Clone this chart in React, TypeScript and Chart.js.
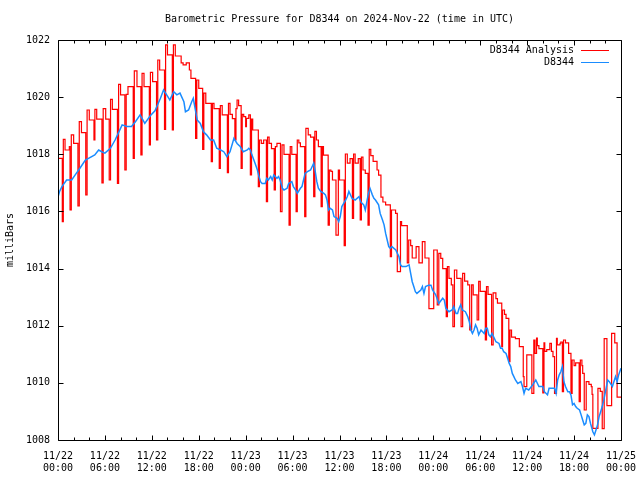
import React, { useEffect, useRef } from 'react';
import { Chart, registerables } from 'chart.js';

Chart.register(...registerables);

const chartTitle = 'Barometric Pressure for D8344 on 2024-Nov-22 (time in UTC)';
const yAxisTitle = 'milliBars';
const analysisLabel = 'D8344 Analysis';
const stationLabel = 'D8344';

// hours since 2024-11-22 00:00 UTC
const xTickHours = [0, 6, 12, 18, 24, 30, 36, 42, 48, 54, 60, 66, 72];
const xTickDates = ['11/22', '11/22', '11/22', '11/22', '11/23', '11/23', '11/23', '11/23', '11/24', '11/24', '11/24', '11/24', '11/25'];
const xTickTimes = ['00:00', '06:00', '12:00', '18:00', '00:00', '06:00', '12:00', '18:00', '00:00', '06:00', '12:00', '18:00', '00:00'];
const xMinorHours = [2, 4, 8, 10, 14, 16, 20, 22, 26, 28, 32, 34, 38, 40, 44, 46, 50, 52, 56, 58, 62, 64, 68, 70];
const yTicks = [1008, 1010, 1012, 1014, 1016, 1018, 1020, 1022];

const analysisHours = [
  0.0, 0.55, 0.68, 0.9, 1.45, 1.54, 1.7, 2.0, 2.55, 2.72, 3.0, 3.55, 3.72, 4.0, 4.6, 4.72, 4.95, 5.62, 5.78, 6.1,
  6.55, 6.72, 6.95, 7.6, 7.75, 8.0, 8.55, 8.72, 8.95, 9.62, 9.76, 10.1, 10.6, 10.75, 11.0, 11.68, 11.82, 12.1, 12.6, 12.76,
  13.0, 13.62, 13.76, 14.0, 14.62, 14.76, 15.0, 15.75, 16.0, 16.4, 16.8, 17.0, 17.6, 17.75, 18.0, 18.5, 18.65, 18.9, 19.6, 19.75,
  19.95, 20.62, 20.76, 21.0, 21.66, 21.8, 22.0, 22.3, 22.62, 22.76, 22.9, 23.1, 23.42, 23.56, 23.75, 24.0, 24.1, 24.4, 24.6, 24.75,
  24.9, 25.62, 25.76, 26.0, 26.3, 26.65, 26.8, 27.0, 27.3, 27.65, 27.8, 28.0, 28.45, 28.65, 28.9, 29.55, 29.7, 29.9, 30.45, 30.6,
  30.8, 31.0, 31.55, 31.7, 32.0, 32.3, 32.7, 32.85, 33.05, 33.3, 33.65, 33.8, 33.95, 34.55, 34.7, 34.9, 35.1, 35.55, 35.85, 36.0,
  36.6, 36.75, 37.0, 37.35, 37.65, 37.8, 38.0, 38.4, 38.65, 38.8, 39.0, 39.3, 39.65, 39.8, 40.0, 40.3, 40.8, 41.0, 41.3, 41.55,
  41.9, 42.5, 42.65, 43.17, 43.39, 43.8, 43.94, 44.67, 44.85, 45.1, 45.3, 45.8, 46.16, 46.59, 46.93, 47.44, 48.05, 48.5, 48.7, 48.95,
  49.2, 49.65, 49.8, 50.0, 50.3, 50.5, 50.7, 51.0, 51.55, 51.75, 52.0, 52.4, 52.65, 52.9, 53.1, 53.6, 53.8, 54.0, 54.65, 54.8,
  55.0, 55.45, 55.65, 56.0, 56.2, 56.75, 56.85, 57.1, 57.3, 57.65, 57.8, 58.0, 58.5, 59.0, 59.5, 59.6, 59.95, 60.6, 60.85, 61.0,
  61.2, 61.3, 61.5, 62.0, 62.15, 62.25, 62.5, 62.9, 63.1, 63.3, 63.5, 63.75, 63.85, 64.2, 64.3, 64.5, 64.65, 64.9, 65.3, 65.6,
  65.75, 66.0, 66.2, 66.65, 66.8, 67.0, 67.1, 67.3, 67.55, 67.9, 68.2, 68.3, 68.4, 69.05, 69.35, 69.6, 69.85, 70.2, 70.8, 71.2,
  71.5, 72.0,
];
const analysisMb = [
  1017.86, 1015.64, 1018.52, 1018.15, 1018.27, 1016.05, 1018.68, 1018.38, 1016.19, 1019.14, 1018.76, 1016.58, 1019.55, 1019.2, 1018.5, 1019.57, 1019.23, 1017.0, 1019.6, 1019.23,
  1017.1, 1019.92, 1019.57, 1016.98, 1020.45, 1020.08, 1017.45, 1020.1, 1020.37, 1017.86, 1020.92, 1020.37, 1017.98, 1020.83, 1020.37, 1018.33, 1020.87, 1020.54, 1018.5, 1021.3,
  1020.95, 1018.87, 1021.83, 1021.48, 1018.85, 1021.83, 1021.44, 1021.2, 1021.13, 1021.2, 1020.95, 1020.66, 1018.56, 1020.6, 1020.31, 1018.17, 1020.14, 1019.78, 1017.74, 1019.78,
  1019.6, 1017.51, 1019.7, 1019.38, 1017.36, 1019.78, 1019.4, 1019.25, 1018.5, 1019.6, 1019.9, 1019.7, 1017.51, 1019.4, 1019.32, 1018.97, 1019.26, 1019.38, 1017.28, 1019.23,
  1018.85, 1016.87, 1018.5, 1018.38, 1018.5, 1016.34, 1018.6, 1018.38, 1018.2, 1016.75, 1018.27, 1018.38, 1015.99, 1018.33, 1018.0, 1015.52, 1018.27, 1018.0, 1015.99, 1018.5,
  1018.4, 1018.27, 1015.82, 1018.91, 1018.68, 1018.6, 1016.52, 1018.8, 1018.5, 1018.27, 1016.17, 1018.27, 1017.97, 1015.52, 1017.45, 1017.4, 1017.1, 1015.17, 1017.45, 1017.1,
  1014.8, 1018.01, 1017.69, 1017.85, 1015.76, 1018.01, 1017.69, 1017.85, 1015.7, 1017.9, 1017.45, 1017.33, 1015.52, 1018.17, 1017.95, 1017.75, 1017.45, 1017.27, 1016.5, 1016.33,
  1016.23, 1014.42, 1016.05, 1015.93, 1013.89, 1015.64, 1015.5, 1014.2, 1015.0, 1014.8, 1014.37, 1014.77, 1014.2, 1014.94, 1014.37, 1012.6, 1014.65, 1012.73, 1014.53, 1014.36,
  1014.0, 1012.32, 1014.07, 1013.66, 1013.43, 1011.97, 1013.95, 1013.66, 1011.97, 1013.83, 1013.56, 1013.43, 1011.85, 1013.43, 1013.08, 1012.2, 1013.55, 1013.2, 1011.5, 1013.37,
  1013.1, 1011.33, 1013.15, 1012.95, 1012.79, 1011.27, 1012.55, 1012.4, 1012.26, 1010.74, 1011.85, 1011.6, 1011.55, 1011.27, 1010.22, 1009.87, 1010.98, 1009.63, 1011.5, 1011.03,
  1011.57, 1011.3, 1011.2, 1009.65, 1011.4, 1011.1, 1011.16, 1011.38, 1011.1, 1010.92, 1009.63, 1011.56, 1011.33, 1011.38, 1011.43, 1009.69, 1011.5, 1011.4, 1011.03, 1009.63,
  1010.8, 1010.6, 1010.7, 1009.34, 1010.8, 1010.6, 1010.33, 1009.05, 1010.04, 1009.95, 1009.87, 1009.6, 1008.41, 1009.81, 1009.7, 1008.4, 1011.55, 1009.2, 1011.73, 1011.4,
  1009.5, 1009.5,
];

const stationHours = [
  0.0, 0.2, 0.5, 1.1, 1.75, 2.2, 2.8, 3.5, 3.9, 4.7, 5.2, 5.6, 6.0, 6.7, 7.3, 7.7, 8.2, 8.8, 9.4, 9.9,
  10.5, 11.1, 11.8, 12.4, 13.1, 13.5, 13.9, 14.3, 14.8, 15.2, 15.6, 16.1, 16.3, 16.7, 17.1, 17.3, 17.8, 18.2, 18.6, 19.0,
  19.5, 19.9, 20.3, 20.8, 21.2, 21.6, 22.0, 22.5, 22.9, 23.3, 23.7, 24.2, 24.4, 24.6, 24.8, 25.2, 25.5, 25.7, 25.9, 26.1,
  26.5, 26.7, 26.9, 27.2, 27.4, 27.6, 28.0, 28.2, 28.4, 28.7, 28.9, 29.3, 29.5, 29.9, 30.1, 30.4, 30.6, 31.0, 31.2, 31.4,
  31.6, 31.9, 32.3, 32.7, 32.9, 33.1, 33.3, 33.6, 34.0, 34.2, 34.4, 34.6, 34.8, 35.1, 35.3, 35.7, 35.9, 36.1, 36.3, 36.8,
  37.0, 37.2, 37.6, 38.0, 38.5, 38.7, 39.1, 39.3, 39.5, 39.7, 39.9, 40.2, 40.4, 40.6, 41.0, 41.2, 41.5, 41.7, 41.9, 42.1,
  42.3, 42.5, 42.7, 43.2, 43.4, 43.6, 43.8, 44.0, 44.5, 44.9, 45.1, 45.3, 45.5, 45.7, 45.9, 46.4, 46.6, 46.8, 47.0, 47.4,
  47.7, 47.9, 48.3, 48.7, 49.2, 49.4, 49.6, 50.0, 50.4, 50.6, 50.9, 51.1, 51.3, 51.5, 51.7, 52.1, 52.4, 52.6, 52.8, 53.0,
  53.2, 53.4, 53.6, 53.8, 54.1, 54.5, 54.7, 54.9, 55.1, 55.3, 55.5, 55.8, 56.0, 56.4, 56.6, 56.8, 57.0, 57.3, 57.5, 57.7,
  57.9, 58.1, 58.3, 58.5, 58.8, 59.2, 59.4, 59.6, 59.8, 60.2, 60.7, 61.1, 61.5, 62.0, 62.2, 62.6, 62.8, 63.2, 63.5, 63.7,
  63.9, 64.1, 64.3, 64.5, 64.7, 64.9, 65.2, 65.4, 65.6, 65.8, 66.0, 66.2, 66.4, 66.7, 66.9, 67.1, 67.3, 67.5, 67.7, 67.9,
  68.1, 68.4, 68.6, 68.8, 69.0, 69.2, 69.4, 69.6, 69.8, 70.3, 70.5, 70.9, 71.3, 71.5, 71.7, 72.0,
];
const stationMb = [
  1016.5, 1016.7, 1016.87, 1017.1, 1017.1, 1017.28, 1017.51, 1017.8, 1017.86, 1017.98, 1018.15, 1018.09, 1018.04, 1018.21, 1018.5, 1018.73, 1019.03, 1018.97, 1018.97, 1019.14,
  1019.38, 1019.08, 1019.35, 1019.52, 1019.96, 1020.25, 1020.08, 1019.9, 1020.19, 1020.08, 1020.14, 1019.84, 1019.49, 1019.55, 1019.84, 1019.96, 1019.2, 1019.08, 1018.79, 1018.68,
  1018.5, 1018.5, 1018.21, 1018.15, 1018.09, 1017.92, 1018.09, 1018.56, 1018.38, 1018.27, 1018.09, 1018.15, 1018.21, 1018.15, 1017.98, 1017.69, 1017.45, 1017.22, 1017.04, 1016.98,
  1016.98, 1017.16, 1017.1, 1017.22, 1017.1, 1017.28, 1017.16, 1017.22, 1017.1, 1016.81, 1016.75, 1016.81, 1016.98, 1017.04, 1016.87, 1016.75, 1016.63, 1016.81, 1016.87, 1017.1,
  1017.33, 1017.39, 1017.45, 1017.69, 1017.39, 1017.04, 1016.81, 1016.7, 1016.63, 1016.58, 1016.4, 1016.05, 1016.11, 1016.05, 1015.82, 1015.76, 1015.64, 1015.82, 1016.17, 1016.4,
  1016.52, 1016.7, 1016.46, 1016.4, 1016.52, 1016.34, 1016.23, 1016.05, 1016.34, 1016.63, 1016.81, 1016.58, 1016.46, 1016.4, 1016.23, 1015.93, 1015.7, 1015.53, 1015.23, 1015.0,
  1014.77, 1014.71, 1014.77, 1014.65, 1014.53, 1014.42, 1014.13, 1014.07, 1014.07, 1014.13, 1013.83, 1013.54, 1013.37, 1013.19, 1013.13, 1013.25, 1013.37, 1013.13, 1013.37, 1013.42,
  1013.42, 1013.25, 1013.08, 1012.78, 1012.96, 1012.9, 1012.61, 1012.49, 1012.55, 1012.67, 1012.43, 1012.43, 1012.61, 1012.73, 1012.55, 1012.49, 1012.32, 1012.14, 1011.85, 1011.73,
  1011.85, 1012.03, 1011.91, 1011.68, 1011.85, 1011.73, 1011.91, 1011.91, 1011.68, 1011.62, 1011.73, 1011.56, 1011.44, 1011.38, 1011.21, 1011.21, 1011.09, 1011.03, 1010.86, 1010.68,
  1010.57, 1010.33, 1010.22, 1010.1, 1009.98, 1010.04, 1009.87, 1009.63, 1009.81, 1009.75, 1009.93, 1010.1, 1009.87, 1009.87, 1009.69, 1009.58, 1009.81, 1009.81, 1009.81, 1009.63,
  1010.1, 1010.28, 1010.39, 1010.57, 1010.04, 1009.87, 1009.69, 1009.69, 1009.58, 1009.23, 1009.28, 1009.17, 1009.11, 1009.05, 1008.88, 1008.7, 1008.53, 1008.58, 1008.88, 1008.82,
  1008.58, 1008.29, 1008.18, 1008.35, 1008.53, 1008.82, 1008.99, 1009.17, 1009.4, 1010.1, 1010.04, 1009.87, 1010.22, 1010.04, 1010.28, 1010.51,
];

const RED = '#ff0000';
const BLUE = '#1a8cff';
const FONT = "'DejaVu Sans Mono', 'Liberation Mono', monospace";

export default function App() {
  const ref = useRef<HTMLCanvasElement>(null);

  useEffect(() => {
    const canvas = ref.current;
    if (!canvas) return;

    const framePlugin = {
      id: 'gnuFrame',
      afterDraw(chart: any) {
        const { ctx, chartArea: a, scales } = chart;
        const xs = scales.x;
        const ys = scales.y;
        const L = Math.round(a.left) + 0.5;
        const R = Math.round(a.right) + 0.5;
        const T = Math.round(a.top) + 0.5;
        const B = Math.round(a.bottom) + 0.5;
        ctx.save();
        ctx.strokeStyle = '#000';
        ctx.lineWidth = 1;
        ctx.beginPath();
        ctx.rect(L, T, R - L, B - T);
        xTickHours.forEach((h) => {
          const x = Math.round(xs.getPixelForValue(h)) + 0.5;
          ctx.moveTo(x, B); ctx.lineTo(x, B - 5);
          ctx.moveTo(x, T); ctx.lineTo(x, T + 5);
        });
        xMinorHours.forEach((h) => {
          const x = Math.round(xs.getPixelForValue(h)) + 0.5;
          ctx.moveTo(x, B); ctx.lineTo(x, B - 3);
          ctx.moveTo(x, T); ctx.lineTo(x, T + 3);
        });
        yTicks.forEach((v) => {
          const y = Math.round(ys.getPixelForValue(v)) + 0.5;
          ctx.moveTo(L, y); ctx.lineTo(L + 5, y);
          ctx.moveTo(R, y); ctx.lineTo(R - 5, y);
        });
        ctx.stroke();

        ctx.fillStyle = '#000';
        ctx.font = `10px ${FONT}`;
        ctx.textBaseline = 'middle';
        ctx.textAlign = 'center';
        ctx.fillText(chartTitle, (a.left + a.right) / 2, 19);

        ctx.textAlign = 'right';
        const textX = a.right - 47;
        const lineX0 = a.right - 40;
        const lineX1 = a.right - 12;
        const rows = [
          { label: analysisLabel, color: RED, y: a.top + 10 },
          { label: stationLabel, color: BLUE, y: a.top + 22 },
        ];
        rows.forEach((r) => {
          ctx.fillStyle = '#000';
          ctx.fillText(r.label, textX, r.y);
          ctx.strokeStyle = r.color;
          ctx.lineWidth = 1;
          ctx.beginPath();
          ctx.moveTo(lineX0, Math.round(r.y) + 0.5);
          ctx.lineTo(lineX1, Math.round(r.y) + 0.5);
          ctx.stroke();
        });
        ctx.restore();
      },
    };

    const chart = new Chart(canvas, {
      type: 'line',
      data: {
        datasets: [
          {
            label: analysisLabel,
            data: analysisHours.map((x, i) => ({ x, y: analysisMb[i] })),
            borderColor: RED,
            backgroundColor: RED,
            borderWidth: 1.2,
            pointRadius: 0,
            stepped: true,
            fill: false,
            order: 2,
          },
          {
            label: stationLabel,
            data: stationHours.map((x, i) => ({ x, y: stationMb[i] })),
            borderColor: BLUE,
            backgroundColor: BLUE,
            borderWidth: 1.5,
            pointRadius: 0,
            tension: 0,
            fill: false,
            order: 1,
          },
        ],
      },
      options: {
        responsive: false,
        animation: false,
        devicePixelRatio: 1,
        events: [],
        layout: { padding: { top: 40, right: 19, left: 0, bottom: 0 } },
        plugins: {
          legend: { display: false },
          tooltip: { enabled: false },
          title: { display: false },
        },
        scales: {
          x: {
            type: 'linear',
            min: 0,
            max: 72,
            afterBuildTicks: (s: any) => {
              s.ticks = xTickHours.map((v) => ({ value: v }));
            },
            afterFit: (s: any) => {
              s.height = 40;
              s.paddingLeft = 0;
              s.paddingRight = 0;
            },
            ticks: {
              autoSkip: false,
              maxRotation: 0,
              minRotation: 0,
              padding: 10,
              color: '#000',
              font: { family: FONT, size: 10 },
              callback: (_v: any, i: number) => [xTickDates[i], xTickTimes[i]],
            },
            grid: { display: false, drawTicks: false },
            border: { display: false },
          },
          y: {
            type: 'linear',
            min: 1008,
            max: 1022,
            afterBuildTicks: (s: any) => {
              s.ticks = yTicks.map((v) => ({ value: v }));
            },
            afterFit: (s: any) => {
              s.width = 58;
              s.paddingTop = 0;
              s.paddingBottom = 0;
            },
            ticks: {
              padding: 8,
              color: '#000',
              font: { family: FONT, size: 10 },
              callback: (v: any) => String(v),
            },
            title: {
              display: true,
              text: yAxisTitle,
              color: '#000',
              font: { family: FONT, size: 10 },
              padding: { top: 4, bottom: 4 },
            },
            grid: { display: false, drawTicks: false },
            border: { display: false },
          },
        },
      },
      plugins: [framePlugin],
    });

    return () => chart.destroy();
  }, []);

  return (
    <div style={{ position: 'fixed', left: 0, top: 0, width: 640, height: 480, background: '#fff' }}>
      <canvas ref={ref} width={640} height={480} style={{ width: 640, height: 480, display: 'block' }} />
    </div>
  );
}
